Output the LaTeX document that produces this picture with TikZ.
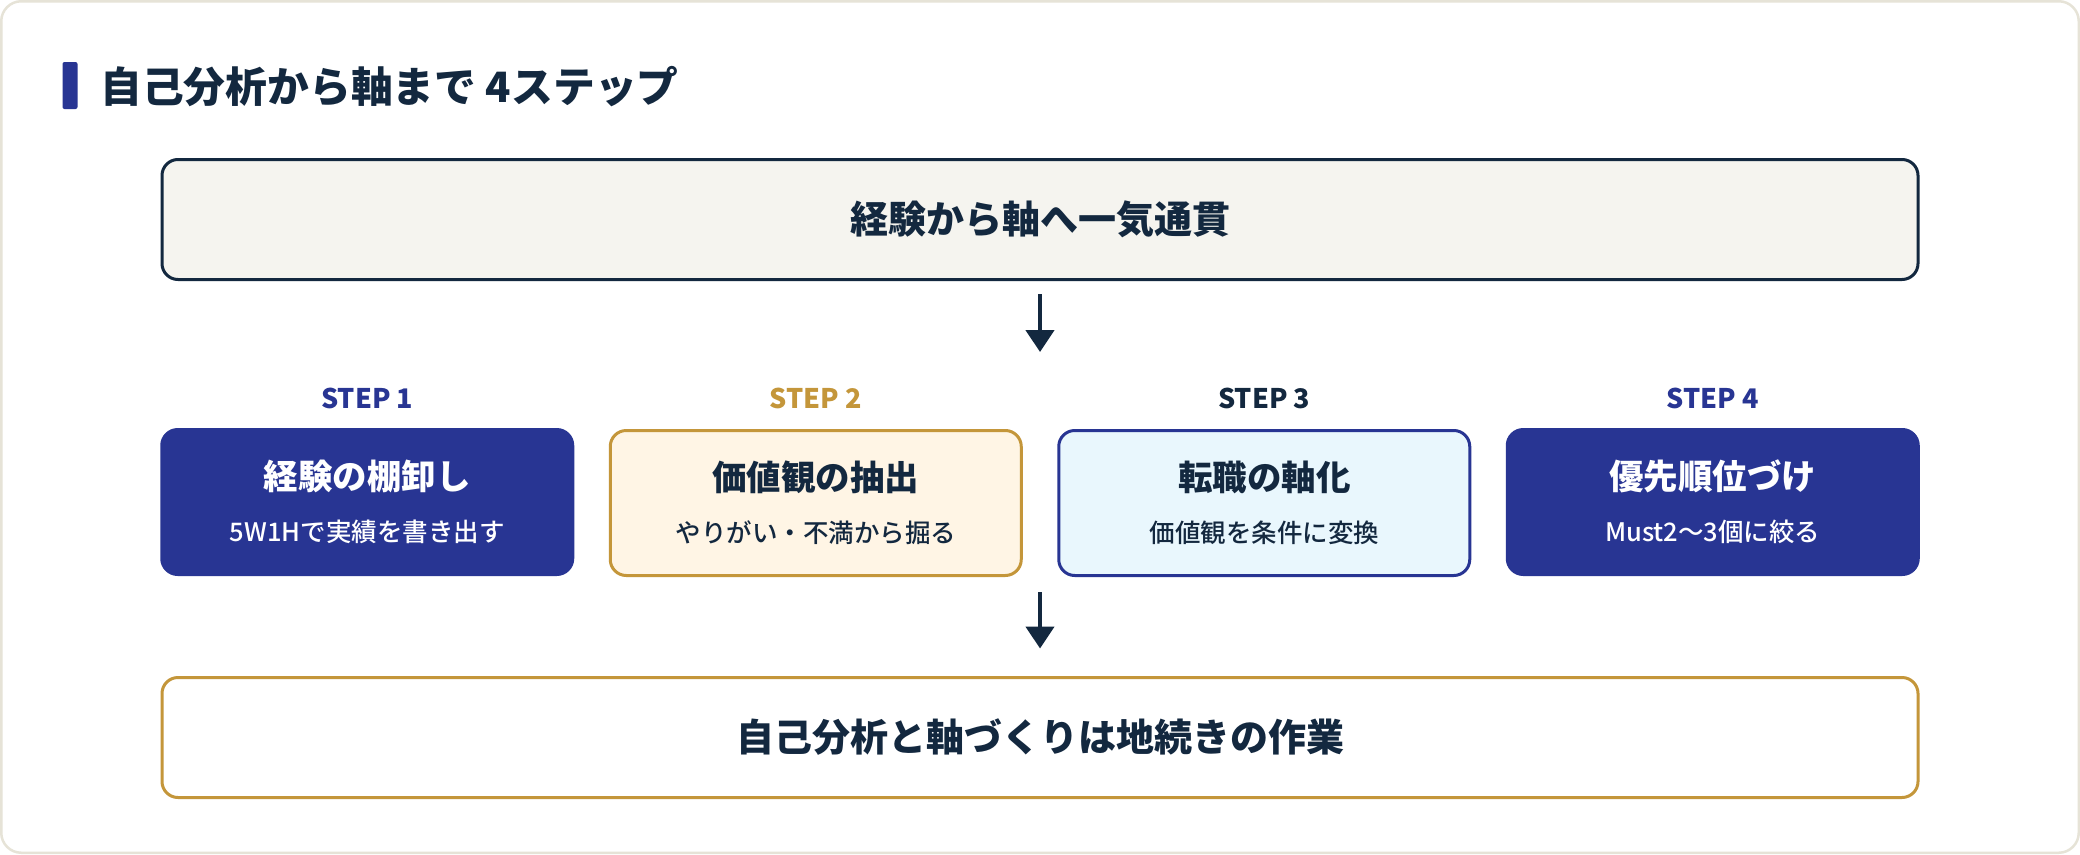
\documentclass[tikz,border=0pt]{standalone}
\usepackage{fontspec}
\setmainfont{Noto Sans CJK JP}
\newfontfamily\medfont{Noto Sans CJK JP Medium}
\usetikzlibrary{positioning,arrows.meta}
\usepackage{xcolor}
\definecolor{ink}{HTML}{13283F}
\definecolor{navy}{HTML}{283593}
\definecolor{gold}{HTML}{C4963A}
\definecolor{paper}{HTML}{F5F4EF}
\definecolor{cream}{HTML}{FFF5E5}
\definecolor{ice}{HTML}{E9F7FD}
\definecolor{rim}{HTML}{E6E3D7}
\newcommand{\boxhead}[2]{{\fontsize{34.5}{40}\selectfont\bfseries #1}\\{\medfont #2}}

\begin{document}
\begin{tikzpicture}[x=1pt,y=-1pt,
    every node/.style={text=ink},
    wide/.style={draw,rounded corners=16pt,line width=3pt,minimum width=1756pt,minimum height=120pt,font=\fontsize{38}{44}\selectfont\bfseries},
    stepbox/.style={rounded corners=16pt,line width=3pt,minimum width=411pt,minimum height=145pt,align=center,font=\fontsize{25.5}{52}\selectfont},
    steptag/.style={inner sep=0pt,font=\fontsize{27}{30}\selectfont\bfseries},
    flow/.style={line width=4.5pt,draw=ink,-{Triangle[length=22pt,width=28pt]}}]
    \useasboundingbox (0,0) rectangle (2080,854);
    \draw[rim,line width=2.5pt,fill=white,rounded corners=20pt] (1.25,1.25) rectangle (2078.75,852.75);

    % heading
    \node[fill=navy,rounded corners=2pt,minimum width=15pt,minimum height=47pt,inner sep=0pt] (bar) at (70,85.5) {};
    \node[anchor=west,inner sep=0pt,font=\fontsize{41.8}{48}\selectfont\bfseries] (title) at (100,87) {自己分析から軸まで 4ステップ};

    % top and bottom bands
    \node[wide,draw=ink,fill=paper] (top) at (1040,219.5) {経験から軸へ一気通貫};
    \node[wide,draw=gold,fill=white] (bottom) at (1040,737.5) {自己分析と軸づくりは地続きの作業};

    % the four steps
    \node[stepbox,draw=navy,fill=navy,text=white] (s1) at (367.25,502) {\boxhead{経験の棚卸し}{5W1Hで実績を書き出す}};
    \node[stepbox,draw=gold,fill=cream] (s2) at (815.75,503) {\boxhead{価値観の抽出}{やりがい・不満から掘る}};
    \node[stepbox,draw=navy,fill=ice] (s3) at (1264.25,503) {\boxhead{転職の軸化}{価値観を条件に変換}};
    \node[stepbox,draw=navy,fill=navy,text=white] (s4) at (1712.75,502) {\boxhead{優先順位づけ}{Must2〜3個に絞る}};

    \node[steptag,text=navy] (t1) at (367.25,398) {STEP 1};
    \node[steptag,text=gold] (t2) at (815.75,398) {STEP 2};
    \node[steptag,text=ink] (t3) at (1264.25,398) {STEP 3};
    \node[steptag,text=navy] (t4) at (1712.75,398) {STEP 4};

    % arrows
    \coordinate (gap1) at (1040,352);
    \coordinate (gap2) at (1040,592);
    \draw[flow,shorten <=13pt] (top) -- (gap1);
    \draw[flow,shorten >=27.5pt] (gap2) -- (bottom);
  \end{tikzpicture}
\end{document}
